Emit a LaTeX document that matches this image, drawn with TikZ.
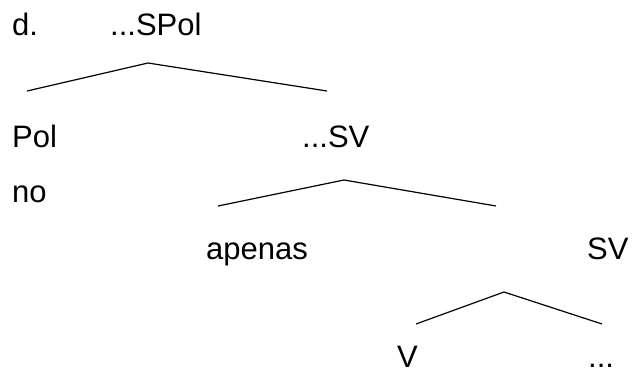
\documentclass[tikz,border=0pt]{standalone}
\usepackage{fontspec}
\setmainfont{Liberation Sans}
\begin{document}
\begin{tikzpicture}[x=1pt,y=-1pt,
    lab/.style={anchor=base west,inner sep=0pt,font=\fontsize{31}{37}\selectfont},
    branch/.style={line width=1.2pt}]
  \useasboundingbox (0,0) rectangle (632,372);
  % labels
  \node[lab] (d) at (12,35) {d.};
  \node[lab] (spol) at (110,35) {...SPol};
  \node[lab] (pol) at (12,147) {Pol};
  \node[lab] (sv1) at (302,147) {...SV};
  \node[lab] (no) at (12,202) {no};
  \node[lab] (apenas) at (206,259) {apenas};
  \node[lab] (sv2) at (587,259) {SV};
  \node[lab] (v) at (397,367) {V};
  \node[lab] (rest) at (588,367) {...};
  % branch points
  \coordinate (spol-t) at (148,63);
  \coordinate (spol-l) at (27,91);
  \coordinate (spol-r) at (327,91);
  \coordinate (sv1-t) at (344,180);
  \coordinate (sv1-l) at (218,206);
  \coordinate (sv1-r) at (496,206);
  \coordinate (sv2-t) at (504,292);
  \coordinate (sv2-l) at (416,324);
  \coordinate (sv2-r) at (602,324);
  \begin{scope}[branch]
    \draw (spol-l) -- (spol-t) -- (spol-r);
    \draw (sv1-l) -- (sv1-t) -- (sv1-r);
    \draw (sv2-l) -- (sv2-t) -- (sv2-r);
  \end{scope}
\end{tikzpicture}
\end{document}
